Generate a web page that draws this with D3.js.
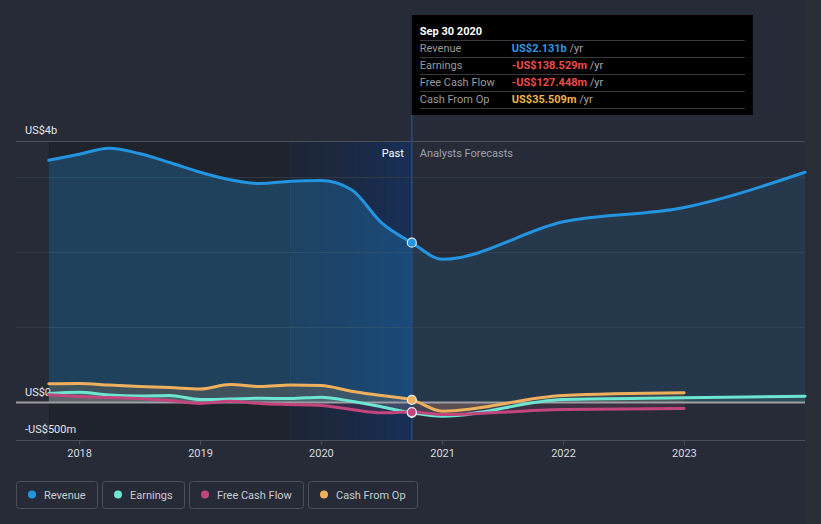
<!DOCTYPE html>
<html><head><meta charset="utf-8">
<script src="https://cdn.jsdelivr.net/npm/d3@7"></script>
<style>html,body{margin:0;padding:0;background:#262b37;}svg{display:block;font-family:Roboto,"Noto Sans",sans-serif;}</style>
</head><body>
<svg id="c" width="821" height="524"></svg>
<script>
// ---- data (US$ millions) ----
const pastDates = ["2017-09-30","2017-12-31","2018-03-31","2018-06-30","2018-09-30","2018-12-31","2019-03-31","2019-06-30","2019-09-30","2019-12-31","2020-03-31","2020-06-30","2020-09-30"];
const forecastDates = ["2020-12-31","2021-12-31","2022-12-31","2023-12-31"];
const revenuePast = [3230,3310,3390,3320,3200,3070,2970,2920,2950,2960,2840,2400,2131];
const revenueForecast = [1910,2410,2600,3070];
const earningsPast = [120,137,100,87,93,40,47,57,53,71,17,-57,-138.529];
const earningsForecast = [-183,40,63,84];
const fcfPast = [103,80,67,53,27,-13,17,-13,-27,-40,-93,-137,-127.448];
const fcfForecast = [-160,-93,-80];
const cfoPast = [249,253,233,213,200,180,240,213,233,227,151,93,35.509];
const cfoForecast = [-116,93,129];
const xTickLabels = ["2018","2019","2020","2021","2022","2023"];
const yTickLabels = ["US$4b","US$0","-US$500m"];
const seriesNames = ["Revenue","Earnings","Free Cash Flow","Cash From Op"];
const seriesColors = ["#2394df","#6ce5d1","#c2457e","#eeb05c"];
const tooltipDate = "Sep 30 2020";
const tooltipValues = ["US$2.131b","-US$138.529m","-US$127.448m","US$35.509m"];
const tooltipColors = ["#2f97e2","#ef4b4b","#ef4b4b","#f0b24e"];

const parse = d3.utcParse("%Y-%m-%d");
function build(vals, fvals){
  const all = pastDates.map((d,i)=>({date:parse(d), v:vals[i]}));
  fvals.forEach((v,i)=>all.push({date:parse(forecastDates[i]), v}));
  return all;
}
const series = [
  build(revenuePast, revenueForecast),
  build(earningsPast, earningsForecast),
  build(fcfPast, fcfForecast),
  build(cfoPast, cfoForecast)
];

const svg = d3.select("#c");
const W = 821, H = 524;
const x = d3.scaleUtc().domain([parse("2017-06-23"), parse("2023-12-31")]).range([16, 805]);
const y = d3.scaleLinear().domain([-500, 3487]).range([440, 141]);
const nowDate = parse(pastDates[pastDates.length-1]);
const xNow = x(nowDate);
const xStart = x(parse(pastDates[0]));
const xBand = x(parse("2019-09-30"));

svg.append("rect").attr("width",W).attr("height",H).attr("fill","#262b37");
svg.append("rect").attr("x",805).attr("y",0).attr("width",16).attr("height",H).attr("fill","#292d36");

const defs = svg.append("defs");
const g1 = defs.append("linearGradient").attr("id","band").attr("x1","0").attr("x2","1").attr("y1","0").attr("y2","0");
g1.append("stop").attr("offset","0").attr("stop-color","#1a2a47").attr("stop-opacity",0.35);
g1.append("stop").attr("offset","1").attr("stop-color","#17305a").attr("stop-opacity",0.95);
defs.append("clipPath").attr("id","clipPast").append("rect").attr("x",0).attr("y",0).attr("width",xNow).attr("height",H);
defs.append("clipPath").attr("id","clipFut").append("rect").attr("x",xNow).attr("y",0).attr("width",W).attr("height",H);

const [y0, y1] = y.range();
// past region
svg.append("rect").attr("x",xStart).attr("y",y1).attr("width",xNow-xStart).attr("height",y0-y1).attr("fill","#1f232c");
svg.append("rect").attr("x",xBand).attr("y",y1).attr("width",xNow-xBand).attr("height",y0-y1).attr("fill","url(#band)");
svg.append("line").attr("x1",xBand).attr("x2",xBand).attr("y1",y1).attr("y2",y0).attr("stroke","#1c3050").attr("stroke-width",1);

// gridlines
svg.selectAll(".grid").data([1000,2000,3000]).join("line")
  .attr("x1",16).attr("x2",805).attr("y1",d=>y(d)).attr("y2",d=>y(d))
  .attr("stroke","#323844").attr("stroke-width",1);
svg.append("line").attr("x1",16).attr("x2",805).attr("y1",y1+0.5).attr("y2",y1+0.5).attr("stroke","#4b505b");
svg.append("line").attr("x1",16).attr("x2",805).attr("y1",y0+0.5).attr("y2",y0+0.5).attr("stroke","#4b505b");

// x ticks
const xAxisDates = xTickLabels.map(l=>parse(l+"-01-01"));
svg.selectAll(".xt").data(xAxisDates).join("line")
  .attr("x1",d=>x(d)).attr("x2",d=>x(d)).attr("y1",y0).attr("y2",y0+5).attr("stroke","#4b505b");
svg.selectAll(".xl").data(xAxisDates).join("text")
  .attr("x",d=>x(d)).attr("y",y0+17).attr("text-anchor","middle")
  .attr("font-size",11).attr("fill","#d8dadf").text((d,i)=>xTickLabels[i]);

// y labels
const yLabelPos = [y1, y(0), y(-500)];
svg.selectAll(".yl").data(yTickLabels).join("text")
  .attr("x",25).attr("y",(d,i)=>yLabelPos[i]-7)
  .attr("font-size",11).attr("fill","#e4e6ea").text(d=>d);

// areas
const area = d3.area().x(d=>x(d.date)).y0(y(0)).y1(d=>y(d.v)).curve(d3.curveMonotoneX);
const line = d3.line().x(d=>x(d.date)).y(d=>y(d.v)).curve(d3.curveMonotoneX);
const pastOp = [0.27,0.16,0.16,0.16];
const futOp = [0.13,0.12,0.16,0.12];
series.forEach((s,i)=>{
  svg.append("path").attr("d",area(s)).attr("fill",seriesColors[i]).attr("fill-opacity",pastOp[i]).attr("clip-path","url(#clipPast)");
  svg.append("path").attr("d",area(s)).attr("fill",seriesColors[i]).attr("fill-opacity",futOp[i]).attr("clip-path","url(#clipFut)");
});

// zero line
svg.append("line").attr("x1",16).attr("x2",805).attr("y1",y(0)).attr("y2",y(0)).attr("stroke","#9c9ea4").attr("stroke-width",2);

// lines (draw small ones first, revenue last)
[3,1,2,0].forEach(i=>{
  svg.append("path").attr("d",line(series[i])).attr("fill","none")
    .attr("stroke",seriesColors[i]).attr("stroke-width",3).attr("stroke-linecap","round");
});

// now line
svg.append("line").attr("x1",xNow).attr("x2",xNow).attr("y1",115).attr("y2",y0).attr("stroke","#2a4a78").attr("stroke-width",1.5);

// markers
[0,3,1,2].forEach(i=>{
  const p = series[i][pastDates.length-1];
  svg.append("circle").attr("cx",x(p.date)).attr("cy",y(p.v)).attr("r",4.5)
    .attr("fill",seriesColors[i]).attr("stroke","#e6e8ee").attr("stroke-width",1.2);
});

// Past / Analysts Forecasts
svg.append("text").attr("x",xNow-8).attr("y",157).attr("text-anchor","end").attr("font-size",11).attr("fill","#ffffff").text("Past");
svg.append("text").attr("x",xNow+8).attr("y",157).attr("font-size",11).attr("fill","#9ea2a9").text("Analysts Forecasts");

// tooltip
const tt = svg.append("g").attr("transform",`translate(${xNow},15)`);
tt.append("rect").attr("width",341).attr("height",100).attr("fill","#000000");
tt.append("text").attr("x",8).attr("y",20).attr("font-size",11).attr("font-weight","bold").attr("fill","#ffffff").text(tooltipDate);
[25,42,59,76,93].forEach(yy=>{
  tt.append("line").attr("x1",8).attr("x2",333).attr("y1",yy+0.5).attr("y2",yy+0.5).attr("stroke","#3a3a3a");
});
seriesNames.forEach((n,i)=>{
  const yy = 37 + i*17;
  tt.append("text").attr("x",8).attr("y",yy).attr("font-size",11).attr("fill","#9a9a9a").text(n);
  const t = tt.append("text").attr("x",100).attr("y",yy).attr("font-size",11);
  t.append("tspan").attr("fill",tooltipColors[i]).attr("font-weight","bold").text(tooltipValues[i]);
  t.append("tspan").attr("fill","#a8a8a8").text(" /yr");
});

// legend
let lx = 16;
seriesNames.forEach((n,i)=>{
  const g = svg.append("g").attr("transform",`translate(${lx},481)`);
  const rect = g.append("rect").attr("x",0.5).attr("y",0.5).attr("height",27).attr("rx",3)
    .attr("fill","none").attr("stroke","#4b505b");
  g.append("circle").attr("cx",16).attr("cy",13.5).attr("r",4).attr("fill",seriesColors[i]);
  const t = g.append("text").attr("x",28).attr("y",17.5).attr("font-size",11).attr("fill","#c9ccd2").text(n);
  const w = Math.round(28 + t.node().getComputedTextLength() + 11.5);
  rect.attr("width",w);
  lx += w + 5;
});
</script>
</body></html>
